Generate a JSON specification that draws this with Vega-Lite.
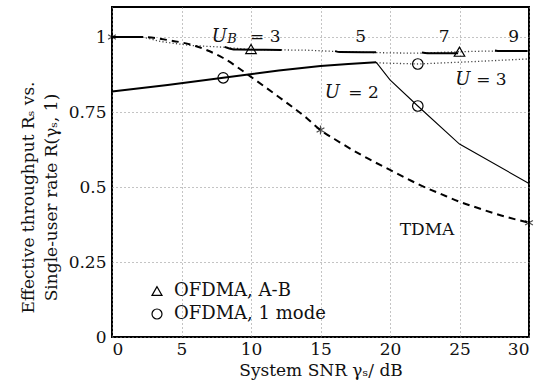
{
  "$schema": "https://vega.github.io/schema/vega-lite/v6.json",
  "width": 417,
  "height": 330,
  "autosize": {"type": "none"},
  "padding": {"left": 112, "top": 7, "right": 21, "bottom": 51},
  "background": "white",
  "config": {
    "view": {"stroke": "black", "strokeWidth": 2},
    "font": "DejaVu Serif",
    "axis": {
      "domain": false,
      "ticks": false,
      "grid": true,
      "gridColor": "#888",
      "gridDash": [1, 3],
      "gridWidth": 1,
      "labelFont": "DejaVu Serif",
      "labelFontSize": 17,
      "labelColor": "#111",
      "titleFont": "DejaVu Serif",
      "titleFontSize": 17,
      "titleFontWeight": "normal",
      "titleColor": "#111"
    },
    "legend": {
      "labelFont": "DejaVu Serif",
      "labelFontSize": 18,
      "labelColor": "#111"
    },
    "text": {"font": "DejaVu Serif"}
  },
  "datasets": {
    "common": [{"snr": 0, "rate": 1}, {"snr": 2.2, "rate": 1}],
    "tdma": [
      {"snr": 0, "rate": 1}, {"snr": 2, "rate": 1}, {"snr": 4, "rate": 0.99}, {"snr": 6, "rate": 0.97},
      {"snr": 8, "rate": 0.93}, {"snr": 10, "rate": 0.867}, {"snr": 12, "rate": 0.8}, {"snr": 14, "rate": 0.73},
      {"snr": 15, "rate": 0.69}, {"snr": 16, "rate": 0.66}, {"snr": 18, "rate": 0.605}, {"snr": 20, "rate": 0.557},
      {"snr": 22, "rate": 0.51}, {"snr": 24, "rate": 0.47}, {"snr": 25, "rate": 0.451}, {"snr": 26, "rate": 0.435},
      {"snr": 28, "rate": 0.405}, {"snr": 30, "rate": 0.381}
    ],
    "u2thick": [
      {"snr": 0, "rate": 0.818}, {"snr": 4, "rate": 0.84}, {"snr": 8, "rate": 0.864}, {"snr": 12, "rate": 0.888},
      {"snr": 15, "rate": 0.903}, {"snr": 17, "rate": 0.91}, {"snr": 19, "rate": 0.916}
    ],
    "u2thin": [
      {"snr": 19, "rate": 0.916}, {"snr": 20, "rate": 0.857}, {"snr": 22, "rate": 0.77}, {"snr": 25, "rate": 0.643}, {"snr": 30, "rate": 0.512}
    ],
    "u3dot": [
      {"snr": 19, "rate": 0.914}, {"snr": 22, "rate": 0.91}, {"snr": 26, "rate": 0.918}, {"snr": 30, "rate": 0.927}
    ],
    "ubdot": [
      {"snr": 2.2, "rate": 1}, {"snr": 3.5, "rate": 0.985}, {"snr": 4.6, "rate": 0.978}, {"snr": 5.6, "rate": 0.972},
      {"snr": 8, "rate": 0.966}, {"snr": 10, "rate": 0.958}, {"snr": 12, "rate": 0.957}, {"snr": 14, "rate": 0.956},
      {"snr": 16, "rate": 0.952}, {"snr": 19, "rate": 0.948}, {"snr": 20, "rate": 0.947}, {"snr": 22, "rate": 0.946},
      {"snr": 25, "rate": 0.951}, {"snr": 27, "rate": 0.953}, {"snr": 30, "rate": 0.953}
    ],
    "ubseg": [
      {"seg": "3", "snr": 8.1, "rate": 0.967}, {"seg": "3", "snr": 8.5, "rate": 0.961}, {"seg": "3", "snr": 9.0, "rate": 0.958}, {"seg": "3", "snr": 12.2, "rate": 0.957},
      {"seg": "5", "snr": 16.05, "rate": 0.953}, {"seg": "5", "snr": 16.4, "rate": 0.95}, {"seg": "5", "snr": 19.0, "rate": 0.949},
      {"seg": "7", "snr": 22.3, "rate": 0.948}, {"seg": "7", "snr": 22.7, "rate": 0.946}, {"seg": "7", "snr": 24.9, "rate": 0.946},
      {"seg": "9", "snr": 27.55, "rate": 0.955}, {"seg": "9", "snr": 27.9, "rate": 0.953}, {"seg": "9", "snr": 29.9, "rate": 0.953}
    ],
    "stars": [{"snr": 0, "rate": 1}, {"snr": 15, "rate": 0.69}, {"snr": 30, "rate": 0.381}],
    "markers": [
      {"snr": 10, "rate": 0.96, "scheme": "OFDMA, A-B"},
      {"snr": 25, "rate": 0.951, "scheme": "OFDMA, A-B"},
      {"snr": 8, "rate": 0.864, "scheme": "OFDMA, 1 mode"},
      {"snr": 22, "rate": 0.91, "scheme": "OFDMA, 1 mode"},
      {"snr": 22, "rate": 0.77, "scheme": "OFDMA, 1 mode"}
    ],
    "roman": [
      {"snr": 9.93, "rate": 0.984, "label": "= 3"},
      {"snr": 17.5, "rate": 0.984, "label": "5"},
      {"snr": 23.5, "rate": 0.984, "label": "7"},
      {"snr": 28.5, "rate": 0.984, "label": "9"},
      {"snr": 17.0, "rate": 0.796, "label": "= 2"},
      {"snr": 26.2, "rate": 0.84, "label": "= 3"},
      {"snr": 20.7, "rate": 0.34, "label": "TDMA"}
    ],
    "italic": [
      {"snr": 7.17, "rate": 0.984, "label": "U"},
      {"snr": 15.3, "rate": 0.796, "label": "U"},
      {"snr": 24.7, "rate": 0.84, "label": "U"}
    ],
    "sub": [
      {"snr": 8.3, "rate": 0.979, "label": "B"}
    ]
  },
  "encoding": {
    "x": {
      "field": "snr", "type": "quantitative",
      "scale": {"domain": [0, 30], "nice": false},
      "axis": {"values": [0, 5, 10, 15, 20, 25, 30], "labelPadding": 4, "title": "System SNR γₛ/ dB", "titlePadding": 5}
    },
    "y": {
      "field": "rate", "type": "quantitative",
      "scale": {"domain": [0, 1.1], "nice": false},
      "axis": {
        "values": [0, 0.25, 0.5, 0.75, 1], "labelExpr": "'' + datum.value", "labelPadding": 6,
        "title": ["Effective throughput Rₛ vs.", "Single-user rate R(γₛ, 1)"], "titlePadding": 8, "titleLineHeight": 23, "titleY": 190
      }
    }
  },
  "layer": [
    {"data": {"name": "ubdot"}, "mark": {"type": "line", "color": "#444", "strokeWidth": 1.3, "strokeDash": [1.2, 2.2]}},
    {"data": {"name": "u3dot"}, "mark": {"type": "line", "color": "#444", "strokeWidth": 1.3, "strokeDash": [1.2, 2.2]}},
    {"data": {"name": "ubseg"}, "mark": {"type": "line", "color": "black", "strokeWidth": 2, "interpolate": "monotone"}, "encoding": {"detail": {"field": "seg"}}},
    {"data": {"name": "tdma"}, "mark": {"type": "line", "color": "black", "strokeWidth": 2, "strokeDash": [7, 5], "interpolate": "monotone"}},
    {"data": {"name": "common"}, "mark": {"type": "line", "color": "black", "strokeWidth": 2}},
    {"data": {"name": "u2thick"}, "mark": {"type": "line", "color": "black", "strokeWidth": 2}},
    {"data": {"name": "u2thin"}, "mark": {"type": "line", "color": "black", "strokeWidth": 1.1}},
    {"data": {"name": "stars"}, "mark": {"type": "point", "filled": false, "color": "black", "strokeWidth": 1.2, "size": 80,
      "shape": "M0,-1L0,1M-0.87,-0.5L0.87,0.5M-0.87,0.5L0.87,-0.5"}},
    {"data": {"name": "markers"}, "mark": {"type": "point", "filled": false, "color": "black", "strokeWidth": 1.2, "size": 110, "opacity": 1},
      "encoding": {"shape": {"field": "scheme", "type": "nominal",
        "scale": {"domain": ["OFDMA, A-B", "OFDMA, 1 mode"], "range": ["triangle-up", "circle"]},
        "legend": {"title": null, "orient": "none", "legendX": 36, "legendY": 275, "padding": 0, "symbolSize": 100, "labelOffset": 8, "rowPadding": 5, "symbolStrokeWidth": 1.2, "symbolStrokeColor": "black"}}}},
    {"data": {"name": "roman"}, "mark": {"type": "text", "align": "left", "baseline": "alphabetic", "fontSize": 17, "color": "#111"},
      "encoding": {"text": {"field": "label"}}},
    {"data": {"name": "italic"}, "mark": {"type": "text", "align": "left", "baseline": "alphabetic", "fontSize": 18, "fontStyle": "italic", "color": "#111"},
      "encoding": {"text": {"field": "label"}}},
    {"data": {"name": "sub"}, "mark": {"type": "text", "align": "left", "baseline": "alphabetic", "fontSize": 13, "fontStyle": "italic", "color": "#111"},
      "encoding": {"text": {"field": "label"}}}
  ]
}
